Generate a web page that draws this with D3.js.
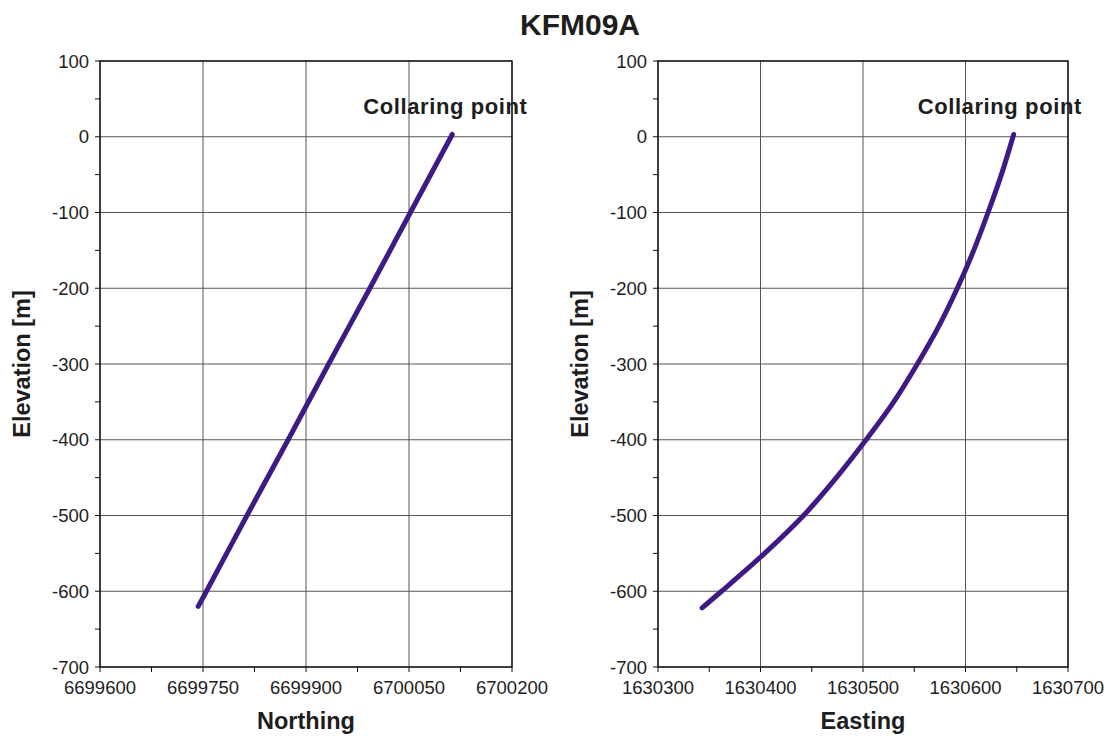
<!DOCTYPE html>
<html>
<head>
<meta charset="utf-8">
<script src="https://cdn.jsdelivr.net/npm/d3@7"></script>
<style>
  body { margin: 0; background: #fff; }
  svg text { font-family: "Liberation Sans", Arial, sans-serif; fill: #1d1d1d; }
</style>
</head>
<body>
<div id="chart"></div>
<script>
/* values */
var chartTitle = "KFM09A"
var elevTicks = [100, 0, -100, -200, -300, -400, -500, -600, -700]

var northElev = [3, -100, -200, -300, -400, -500, -600, -620]
var northing  = [6700113, 6700052, 6699993, 6699933, 6699874, 6699814, 6699755, 6699743]
var northTicks = [6699600, 6699750, 6699900, 6700050, 6700200]

var eastElev = [3, -50, -100, -150, -200, -250, -300, -350, -400, -450, -500, -550, -600, -622]
var easting  = [1630647, 1630635, 1630622, 1630608, 1630592, 1630574, 1630553, 1630530, 1630503, 1630474, 1630442, 1630404, 1630362, 1630343]
var eastTicks = [1630300, 1630400, 1630500, 1630600, 1630700]

var lineColor = "#3f1a85"

var svg = d3.select("#chart").append("svg")
    .attr("width", 1112)
    .attr("height", 740)

svg.append("text")
    .attr("x", 580).attr("y", 35)
    .attr("text-anchor", "middle")
    .style("font-size", "30px").style("font-weight", "bold")
    .text(chartTitle)

/* one panel = one well section */
function panel(left, right, xTicks, xMinorStep, xs, ys, xLabel, labelShift) {
  var top = 61, bottom = 667
  var x = d3.scaleLinear().domain([xTicks[0], xTicks[xTicks.length - 1]]).range([left, right])
  var y = d3.scaleLinear().domain([100, -700]).range([top, bottom])

  var g = svg.append("g")

  // grid
  g.selectAll(".vgrid").data(xTicks).enter().append("line")
      .attr("x1", d => x(d)).attr("x2", d => x(d))
      .attr("y1", top).attr("y2", bottom)
      .style("stroke", "#555").style("stroke-width", 1)
  g.selectAll(".hgrid").data(elevTicks).enter().append("line")
      .attr("x1", left).attr("x2", right)
      .attr("y1", d => y(d)).attr("y2", d => y(d))
      .style("stroke", "#555").style("stroke-width", 1)

  // frame
  g.append("rect")
      .attr("x", left).attr("y", top)
      .attr("width", right - left).attr("height", bottom - top)
      .attr("fill", "none").style("stroke", "#111").style("stroke-width", 1.4)

  // y axis
  var yMinor = d3.range(100, -701, -50)
  g.selectAll(".ytick").data(yMinor).enter().append("line")
      .attr("x1", left - 5).attr("x2", left)
      .attr("y1", d => y(d)).attr("y2", d => y(d))
      .style("stroke", "#111")
  g.selectAll(".ylab").data(elevTicks).enter().append("text")
      .attr("x", left - 11).attr("y", d => y(d) + 6.5)
      .attr("text-anchor", "end")
      .style("font-size", "18.5px")
      .text(d => d)

  // x axis
  var xMinor = d3.range(xTicks[0], xTicks[xTicks.length - 1] + 1, xMinorStep)
  g.selectAll(".xtick").data(xMinor).enter().append("line")
      .attr("x1", d => x(d)).attr("x2", d => x(d))
      .attr("y1", bottom).attr("y2", bottom + 5)
      .style("stroke", "#111")
  g.selectAll(".xlab").data(xTicks).enter().append("text")
      .attr("x", d => x(d)).attr("y", bottom + 27)
      .attr("text-anchor", "middle")
      .style("font-size", "18.5px")
      .text(d => d)

  // axis titles
  g.append("text")
      .attr("x", (left + right) / 2).attr("y", bottom + 62)
      .attr("text-anchor", "middle")
      .style("font-size", "23.5px").style("font-weight", "bold")
      .text(xLabel)
  g.append("text")
      .attr("transform", "translate(" + (left - 70) + "," + ((top + bottom) / 2) + ") rotate(-90)")
      .attr("text-anchor", "middle")
      .style("font-size", "23.5px").style("font-weight", "bold")
      .text("Elevation [m]")

  // borehole trace
  var pts = xs.map((v, i) => [v, ys[i]])
  g.append("path")
      .datum(pts)
      .attr("d", d3.line().x(d => x(d[0])).y(d => y(d[1])).curve(d3.curveCatmullRom))
      .attr("fill", "none")
      .style("stroke", lineColor).style("stroke-width", 5)
      .style("stroke-linecap", "round").style("stroke-linejoin", "round")

  g.append("text")
      .attr("x", x(xs[0]) - labelShift).attr("y", y(ys[0]) - 20)
      .style("font-size", "22px").style("font-weight", "bold")
      .style("letter-spacing", "0.6px")
      .text("Collaring point")
}

panel(100, 512, northTicks, 75, northing, northElev, "Northing", 89)
panel(658, 1068, eastTicks, 50, easting, eastElev, "Easting", 96)
</script>
</body>
</html>
